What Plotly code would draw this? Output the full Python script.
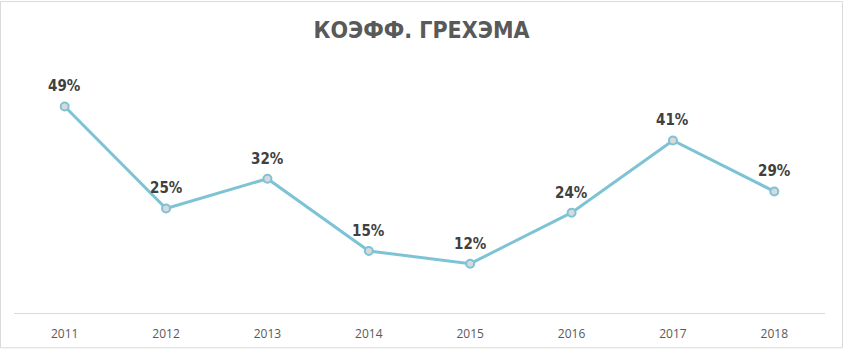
import plotly.graph_objects as go

years = ["2011", "2012", "2013", "2014", "2015", "2016", "2017", "2018"]
values = [49, 25, 32, 15, 12, 24, 41, 29]
labels = [f"{v}%" for v in values]

L, R, T, B = 14, 18, 58, 36
W, H = 843, 354
pw, ph = W - L - R, H - T - B
y0 = 0.4
y1 = y0 + 60

def px(x):
    return (x - L) / pw

def py(y):
    return (H - B - y) / ph

COND = "DejaVu Sans Condensed, Roboto Condensed, Liberation Sans Narrow, Roboto"

fig = go.Figure()
fig.add_trace(go.Scatter(
    x=years, y=values, mode="lines+markers",
    line=dict(color="#7DC3D5", width=3),
    marker=dict(symbol="circle", size=8, color="#D9D9D9",
                line=dict(color="#7DC3D5", width=2)),
    cliponaxis=False, hoverinfo="skip",
))

annotations = [
    dict(x=i, y=v, text=t, xref="x", yref="y", showarrow=False,
         yshift=20, yanchor="middle", xanchor="center",
         font=dict(family=COND, size=15, color="#404040", weight="bold"))
    for i, (v, t) in enumerate(zip(values, labels))
]

fig.update_layout(
    width=W, height=H,
    margin=dict(l=L, r=R, t=T, b=B),
    paper_bgcolor="white", plot_bgcolor="white",
    showlegend=False,
    title=dict(text="<b>КОЭФФ. ГРЕХЭМА</b>", x=0.5, xanchor="center",
               y=1 - 30 / H, yanchor="middle",
               font=dict(family=COND, size=23, color="#595959")),
    xaxis=dict(type="category", range=[-0.5, 7.5], showgrid=False, showline=True,
               linecolor="#D9D9D9", linewidth=1, ticks="",
               ticklabelstandoff=10,
               tickfont=dict(family="Open Sans", size=12, color="#595959"),
               fixedrange=True),
    yaxis=dict(range=[y0, y1], visible=False, showgrid=False, fixedrange=True),
    annotations=annotations,
    shapes=[dict(type="rect", xref="paper", yref="paper",
                 x0=px(0.5), x1=px(842.5), y0=py(353.5), y1=py(0.5),
                 line=dict(color="#D9D9D9", width=1), layer="below")],
)

fig.write_html("out.html")
